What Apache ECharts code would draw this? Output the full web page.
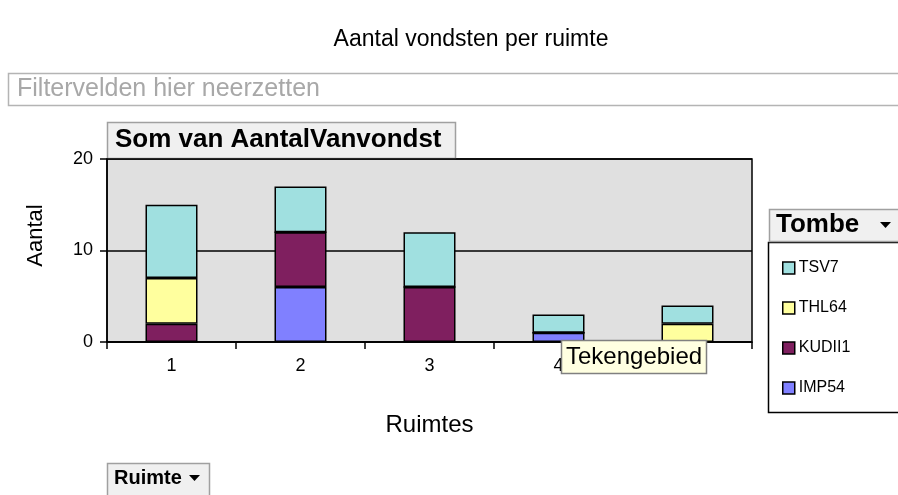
<!DOCTYPE html>
<html>
<head>
<meta charset="utf-8">
<script src="https://cdn.jsdelivr.net/npm/echarts@6/dist/echarts.min.js"></script>
<style>
html,body{margin:0;padding:0;background:#fff;}
#main{width:898px;height:495px;}
</style>
</head>
<body>
<div id="main"></div>
<script>
// categorieen (ruimtes) en waarden per tombe
var ruimtes = ['1', '2', '3', '4', '5'];
var imp54  = [0, 6, 0, 1, 0];
var kudii1 = [2, 6, 6, 0, 0];
var thl64  = [5, 0, 0, 0, 2];
var tsv7   = [8, 5, 6, 2, 2];
var yTicks = [0, 10, 20];

var font = 'Liberation Sans, Arial, sans-serif';

function serie(naam, data, kleur){
	return {
		name: naam,
		type: 'bar',
		stack: 'totaal',
		data: data,
		barWidth: 52,
		itemStyle: {color: kleur, borderColor: '#000', borderWidth: 1.5},
		emphasis: {disabled: true}
	};
}

var myChart = echarts.init(document.getElementById('main'));

var option = {
	animation: false,
	title: {
		text: 'Aantal vondsten per ruimte',
		left: 466, top: 23, textAlign: 'center',
		textStyle: {fontFamily: font, fontSize: 23, fontWeight: 'normal', color: '#000'}
	},
	grid: {
		left: 107, top: 159, width: 645, height: 183,
		show: true, backgroundColor: '#e0e0e0', borderColor: '#000', borderWidth: 1.5
	},
	legend: {
		orient: 'vertical',
		left: 777, top: 255,
		itemWidth: 12, itemHeight: 12, itemGap: 24,
		icon: 'rect',
		data: ['TSV7', 'THL64', 'KUDII1', 'IMP54'],
		itemStyle: {borderColor: '#000', borderWidth: 1.5},
		textStyle: {fontFamily: font, fontSize: 16, color: '#000', padding: [0, 0, 0, -1]},
		selectedMode: false
	},
	xAxis: {
		type: 'category',
		data: ruimtes,
		name: 'Ruimtes',
		nameLocation: 'middle',
		nameGap: 71,
		nameTextStyle: {fontFamily: font, fontSize: 24, color: '#000'},
		axisLine: {lineStyle: {color: '#000', width: 1.5}},
		axisTick: {show: true, alignWithLabel: false, length: 7, lineStyle: {color: '#000', width: 1.5}},
		axisLabel: {fontFamily: font, fontSize: 18, color: '#000', margin: 15}
	},
	yAxis: {
		type: 'value',
		min: yTicks[0], max: yTicks[yTicks.length - 1], interval: 10,
		name: 'Aantal',
		nameLocation: 'middle',
		nameGap: 60,
		nameTextStyle: {fontFamily: font, fontSize: 22, color: '#000', padding: [0, 0, 0, 30]},
		axisLine: {show: true, lineStyle: {color: '#000', width: 1.5}},
		axisTick: {show: true, length: 7, lineStyle: {color: '#000', width: 1.5}},
		axisLabel: {fontFamily: font, fontSize: 18, color: '#000', margin: 14},
		splitLine: {show: true, lineStyle: {color: '#000', width: 1.5}}
	},
	series: [
		serie('IMP54', imp54, '#8080ff'),
		serie('KUDII1', kudii1, '#7f1f5f'),
		serie('THL64', thl64, '#ffff9e'),
		serie('TSV7', tsv7, '#a0e0e0')
	],
	graphic: [
		// veld met filtervelden
		{type: 'rect', shape: {x: 8.5, y: 73.5, width: 900, height: 32}, style: {fill: '#fff', stroke: '#b4b4b4', lineWidth: 1.5}},
		{type: 'text', left: 17, top: 77, style: {text: 'Filtervelden hier neerzetten', font: '25px ' + font, fill: '#a8a8a8'}},
		// gegevensveld
		{type: 'rect', shape: {x: 107.5, y: 122.5, width: 348, height: 36}, style: {fill: '#f0f0f0', stroke: '#a0a0a0', lineWidth: 1.5}},
		{type: 'text', left: 115, top: 127, style: {text: 'Som van AantalVanvondst', font: 'bold 26px ' + font, fill: '#000'}},
		// legenda kader
		{type: 'rect', shape: {x: 768.5, y: 242.5, width: 140, height: 170}, style: {fill: '#fff', stroke: '#000', lineWidth: 1.5}, z: -1},
		{type: 'rect', shape: {x: 769.5, y: 209.5, width: 140, height: 32}, style: {fill: '#f0f0f0', stroke: '#a0a0a0', lineWidth: 1.5}},
		{type: 'text', left: 776, top: 212, style: {text: 'Tombe', font: 'bold 26px ' + font, fill: '#000'}},
		{type: 'polygon', shape: {points: [[880, 222], [891, 222], [885.5, 228]]}, style: {fill: '#000'}},
		// rijveld
		{type: 'rect', shape: {x: 107.5, y: 463.5, width: 102, height: 40}, style: {fill: '#f0f0f0', stroke: '#a0a0a0', lineWidth: 1.5}},
		{type: 'text', left: 114, top: 468, style: {text: 'Ruimte', font: 'bold 20px ' + font, fill: '#000'}},
		{type: 'polygon', shape: {points: [[189, 475], [200, 475], [194.5, 481]]}, style: {fill: '#000'}},
		// knopinfo
		{type: 'rect', z: 100, shape: {x: 561.5, y: 340.5, width: 145, height: 33}, style: {fill: '#ffffe1', stroke: '#808080', lineWidth: 1.5}},
		{type: 'text', z: 101, left: 566, top: 345, style: {text: 'Tekengebied', font: '24px ' + font, fill: '#000'}}
	]
};

myChart.setOption(option);
</script>
</body>
</html>
